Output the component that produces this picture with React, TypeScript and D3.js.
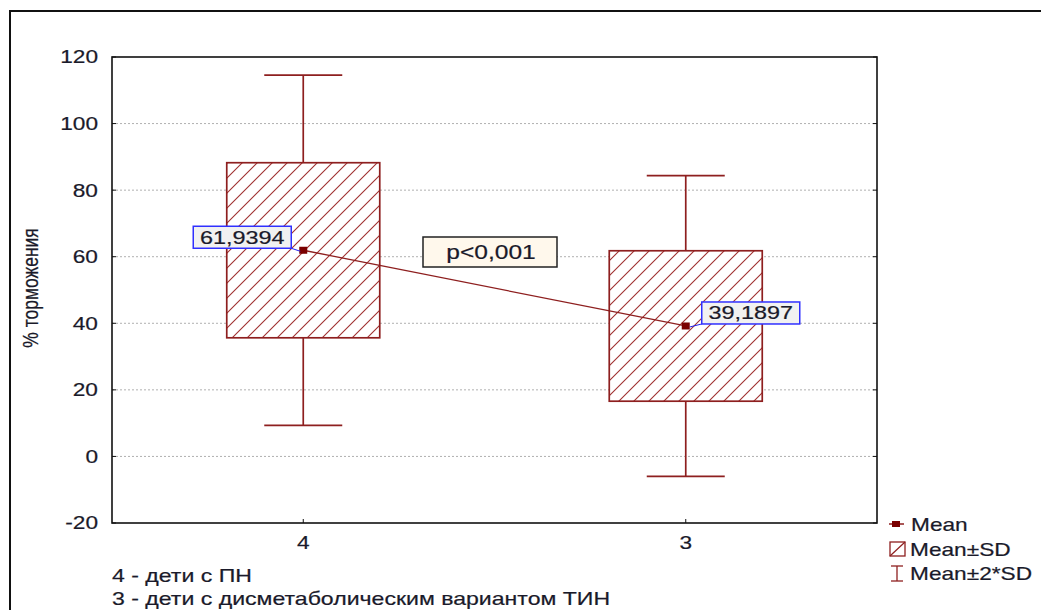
import React from "react";
import * as d3 from "d3";

// Group codes on the X axis and their summary statistics
const categories = ["4", "3"];
const means = [61.9394, 39.1897];
const sds = [26.3, 22.6];
const yTicks = [-20, 0, 20, 40, 60, 80, 100, 120];
const gridTicks = [0, 20, 40, 60, 80, 100];
const footnotes = ["4 - дети с ПН", "3 - дети с дисметаболическим вариантом ТИН"];
const legendItems = ["Mean", "Mean±SD", "Mean±2*SD"];
const pLabel = "p<0,001";
const yTitle = "% торможения";

const W = 1041;
const H = 610;
const plot = { left: 112, right: 877, top: 57, bottom: 523 };
const RED = "#8e1f1f";
const HATCH = "#a03030";
const INK = "#1a1a2a";
const FONT = "Arial, 'Liberation Sans', sans-serif";
const SX = 1.26; // horizontal stretch of the lettering

const fmt = (v: number) => v.toFixed(4).replace(".", ",");

type TProps = {
  x: number;
  y: number;
  size?: number;
  anchor?: "start" | "middle" | "end";
  dy?: string;
  sx?: number;
  children: React.ReactNode;
};

// Wide lettering: text is drawn at its anchor and stretched horizontally
function T({ x, y, size = 18, anchor = "start", dy, sx = SX, children }: TProps) {
  return (
    <text
      transform={`translate(${x},${y}) scale(${sx},1)`}
      textAnchor={anchor}
      fontSize={size}
      dy={dy}
      fill={INK}
      stroke={INK}
      strokeWidth={0.2}
    >
      {children}
    </text>
  );
}

export default function App() {
  const x = d3
    .scalePoint<string>()
    .domain(categories)
    .range([plot.left, plot.right])
    .padding(0.5);
  const y = d3.scaleLinear().domain([-20, 120]).range([plot.bottom, plot.top]);

  const boxHalf = 76.5;
  const capHalf = 39;

  const meanLine = d3
    .line<number>()
    .x((_, i) => x(categories[i]) as number)
    .y((d) => y(d));

  return (
    <svg
      width={W}
      height={H}
      style={{ position: "absolute", left: 0, top: 0, background: "#fff" }}
      fontFamily={FONT}
    >
      <defs>
        <pattern id="hatch" patternUnits="userSpaceOnUse" width={15} height={15}>
          <path
            d="M0,15 L15,0 M-3,3 L3,-3 M12,18 L18,12"
            stroke={HATCH}
            strokeWidth={1.1}
            fill="none"
          />
        </pattern>
      </defs>

      {/* outer frame */}
      <rect x={10} y={11} width={1060} height={640} fill="none" stroke="#111" strokeWidth={2} />

      {/* grid */}
      {gridTicks.map((t) => (
        <line
          key={"g" + t}
          x1={plot.left}
          x2={plot.right}
          y1={y(t)}
          y2={y(t)}
          stroke="#b0b0b0"
          strokeWidth={1}
          strokeDasharray="2,2"
        />
      ))}

      {/* plot frame */}
      <rect
        x={plot.left}
        y={plot.top}
        width={plot.right - plot.left}
        height={plot.bottom - plot.top}
        fill="none"
        stroke="#111"
        strokeWidth={1.6}
      />

      {/* y ticks and labels */}
      {yTicks.map((t) => (
        <g key={"t" + t}>
          <line x1={plot.left} x2={plot.left + 4} y1={y(t)} y2={y(t)} stroke="#111" />
          <line x1={plot.right - 4} x2={plot.right} y1={y(t)} y2={y(t)} stroke="#111" />
          <T x={98} y={y(t)} dy="0.36em" anchor="end">
            {t}
          </T>
        </g>
      ))}

      <text
        transform={`translate(38,${288}) scale(${SX},1) rotate(-90)`}
        textAnchor="middle"
        fontSize={17.5}
        fill={INK}
        stroke={INK}
        strokeWidth={0.2}
      >
        {yTitle}
      </text>

      {/* x ticks and labels */}
      {categories.map((c) => (
        <g key={"x" + c}>
          <line
            x1={x(c)}
            x2={x(c)}
            y1={plot.bottom}
            y2={plot.bottom - 4}
            stroke="#111"
          />
          <T x={x(c) as number} y={549} anchor="middle">
            {c}
          </T>
        </g>
      ))}

      {/* whiskers and boxes */}
      {categories.map((c, i) => {
        const cx = x(c) as number;
        const m = means[i];
        const s = sds[i];
        return (
          <g key={"b" + c}>
            <line x1={cx} x2={cx} y1={y(m + 2 * s)} y2={y(m - 2 * s)} stroke={RED} strokeWidth={1.7} />
            <line x1={cx - capHalf} x2={cx + capHalf} y1={y(m + 2 * s)} y2={y(m + 2 * s)} stroke={RED} strokeWidth={1.7} />
            <line x1={cx - capHalf} x2={cx + capHalf} y1={y(m - 2 * s)} y2={y(m - 2 * s)} stroke={RED} strokeWidth={1.7} />
            <rect
              x={cx - boxHalf}
              y={y(m + s)}
              width={boxHalf * 2}
              height={y(m - s) - y(m + s)}
              fill="#fff"
              stroke="none"
            />
            <rect
              x={cx - boxHalf}
              y={y(m + s)}
              width={boxHalf * 2}
              height={y(m - s) - y(m + s)}
              fill="url(#hatch)"
              stroke={RED}
              strokeWidth={1.7}
            />
          </g>
        );
      })}

      {/* line through means */}
      <path d={meanLine(means) ?? ""} fill="none" stroke={RED} strokeWidth={1.3} />
      {categories.map((c, i) => (
        <rect
          key={"m" + c}
          x={(x(c) as number) - 4}
          y={y(means[i]) - 3.5}
          width={8}
          height={7}
          fill="#7a0000"
        />
      ))}

      {/* value labels */}
      {categories.map((c, i) => {
        const cx = x(c) as number;
        const cy = y(means[i]);
        const left = i === 0;
        const bw = 98;
        const bh = 22;
        const bx = left ? cx - 110 : cx + 16;
        const by = cy - 24;
        return (
          <g key={"l" + c}>
            <line
              x1={left ? bx + bw : bx}
              y1={by + bh}
              x2={left ? cx - 3 : cx + 4}
              y2={cy + 1}
              stroke="#2222ee"
              strokeWidth={1}
            />
            <rect x={bx} y={by} width={bw} height={bh} fill="#f1f1f1" stroke="#3030ff" strokeWidth={1.5} />
            <T x={bx + bw / 2} y={by + bh / 2} dy="0.36em" anchor="middle" size={18} sx={1.3}>
              {fmt(means[i])}
            </T>
          </g>
        );
      })}

      {/* significance label */}
      <rect x={423} y={237} width={134} height={30} fill="#fff8ec" stroke="#222" strokeWidth={1.5} />
      <T x={491} y={252} dy="0.36em" anchor="middle" size={19.5}>
        {pLabel}
      </T>

      {/* legend */}
      <g>
        <line x1={889} x2={904} y1={524} y2={524} stroke={RED} strokeWidth={1.5} />
        <rect x={892} y={521} width={8} height={6} fill="#7a0000" />
        <T x={911} y={531}>{legendItems[0]}</T>

        <rect x={890} y={542} width={15} height={14} fill="none" stroke={RED} strokeWidth={1.3} />
        <line x1={890} y1={556} x2={905} y2={542} stroke={RED} strokeWidth={1.2} />
        <T x={910} y={556}>{legendItems[1]}</T>

        <line x1={897} x2={897} y1={566} y2={581} stroke={RED} strokeWidth={1.3} />
        <line x1={891} x2={903} y1={566} y2={566} stroke={RED} strokeWidth={1.3} />
        <line x1={891} x2={903} y1={581} y2={581} stroke={RED} strokeWidth={1.3} />
        <T x={910} y={580}>{legendItems[2]}</T>
      </g>

      {/* group descriptions */}
      {footnotes.map((f, i) => (
        <T key={"f" + i} x={112} y={582 + i * 23} sx={1.283}>
          {f}
        </T>
      ))}
    </svg>
  );
}
